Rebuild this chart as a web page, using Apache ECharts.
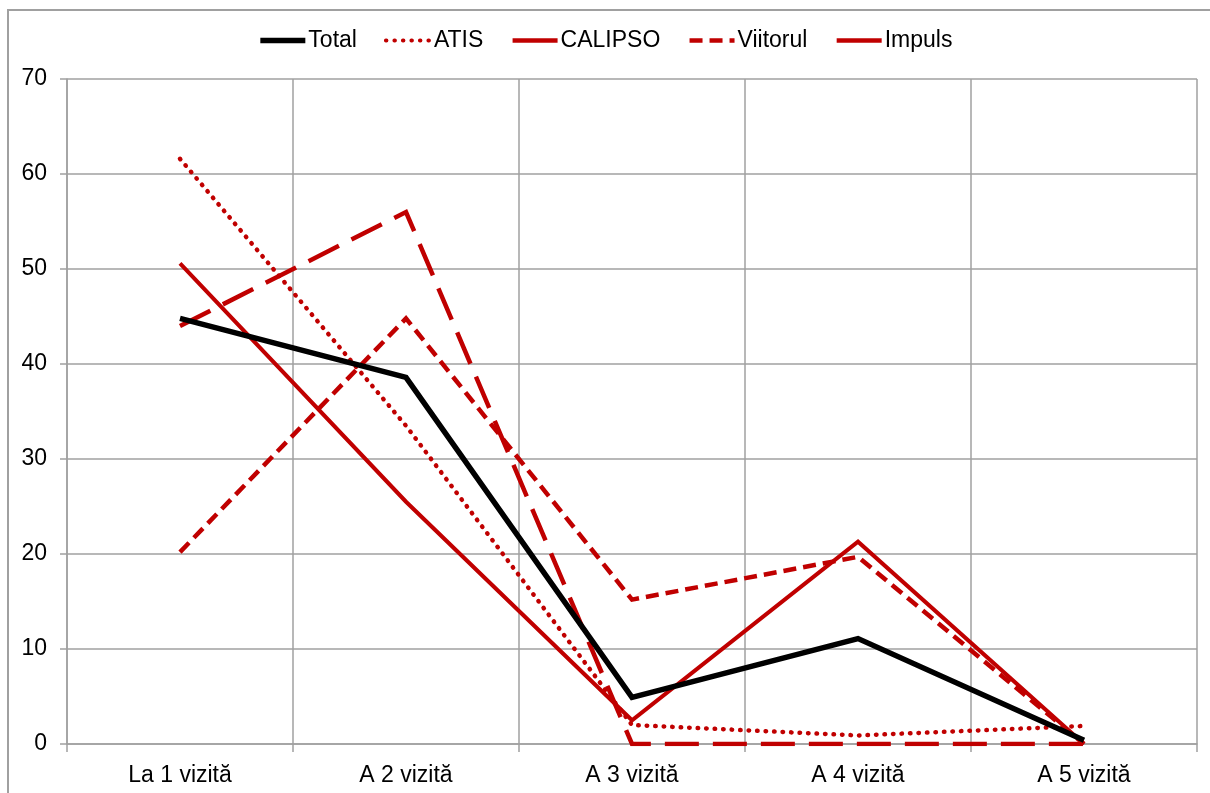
<!DOCTYPE html>
<html>
<head>
<meta charset="utf-8">
<script src="https://cdn.jsdelivr.net/npm/echarts@6/dist/echarts.min.js"></script>
<style>
html,body{margin:0;padding:0;background:#fff;}
#c{width:1210px;height:793px;}
</style>
</head>
<body>
<div id="c"></div>
<script>
var categories = ['La 1 vizită', 'A 2 vizită', 'A 3 vizită', 'A 4 vizită', 'A 5 vizită'];
var yTicks = [0, 10, 20, 30, 40, 50, 60, 70];
var total = [44.8, 38.6, 4.9, 11.1, 0.4];
var atis = [61.6, 33.5, 2.0, 0.9, 1.9];
var calipso = [44.0, 56.0, 0, 0, 0];
var viitorul = [20.2, 44.8, 15.2, 19.7, 0];
var impuls = [50.6, 25.5, 2.5, 21.3, 0];

var RED = '#C00000';
var FONT = '"Liberation Sans", Arial, sans-serif';

var chart = echarts.init(document.getElementById('c'), null, {renderer: 'canvas'});

function mk(name, data, color, width, type, cap, z) {
  return {
    name: name, type: 'line', data: data, symbol: 'none', z: z,
    lineStyle: {color: color, width: width, type: type, cap: cap || 'butt', join: 'miter'},
    itemStyle: {color: color},
    emphasis: {disabled: true},
    animation: false
  };
}

chart.setOption({
  animation: false,
  backgroundColor: '#fff',
  graphic: [{
    type: 'rect', silent: true, z: -1,
    shape: {x: 8, y: 10, width: 1220, height: 800},
    style: {fill: 'none', stroke: '#a0a0a0', lineWidth: 2}
  }],
  legend: {
    top: 24, left: 'center',
    itemWidth: 45, itemHeight: 14, itemGap: 27,
    itemStyle: {color: 'rgba(0,0,0,0)', borderWidth: 0, opacity: 0},
    textStyle: {fontFamily: FONT, fontSize: 23, color: '#000', padding: [0, 0, 0, -2]},
    data: [
      {name: 'Total', lineStyle: {width: 5.5}},
      {name: 'ATIS', lineStyle: {width: 4}},
      {name: 'CALIPSO', lineStyle: {type: 'solid', width: 4.5}},
      {name: 'Viitorul', lineStyle: {width: 4.5}},
      {name: 'Impuls', lineStyle: {width: 4.5}}
    ]
  },
  grid: {left: 67, right: 13, top: 79, bottom: 49, containLabel: false},
  xAxis: {
    type: 'category', data: categories, boundaryGap: true,
    axisLine: {show: true, lineStyle: {color: '#a0a0a0', width: 1.5}},
    axisTick: {show: true, length: 8, alignWithLabel: false, lineStyle: {color: '#a0a0a0', width: 1.5}},
    splitLine: {show: true, lineStyle: {color: '#a0a0a0', width: 1.5}},
    axisLabel: {fontFamily: FONT, fontSize: 23, color: '#000', margin: 20}
  },
  yAxis: {
    type: 'value', min: yTicks[0], max: yTicks[yTicks.length - 1], interval: 10,
    axisLine: {show: true, lineStyle: {color: '#a0a0a0', width: 1.5}},
    axisTick: {show: true, length: 7, lineStyle: {color: '#a0a0a0', width: 1.5}},
    splitLine: {show: true, lineStyle: {color: '#a0a0a0', width: 1.5}},
    axisLabel: {fontFamily: FONT, fontSize: 23, color: '#000', margin: 20}
  },
  series: [
    mk('Total', total, '#000', 5.5, 'solid', 'butt', 10),
    mk('ATIS', atis, RED, 4.5, [0.5, 8], 'round', 5),
    mk('CALIPSO', calipso, RED, 4.5, [34, 14], 'butt', 5),
    mk('Viitorul', viitorul, RED, 4.5, [13, 7], 'butt', 5),
    mk('Impuls', impuls, RED, 4, 'solid', 'butt', 5)
  ]
});
</script>
</body>
</html>
